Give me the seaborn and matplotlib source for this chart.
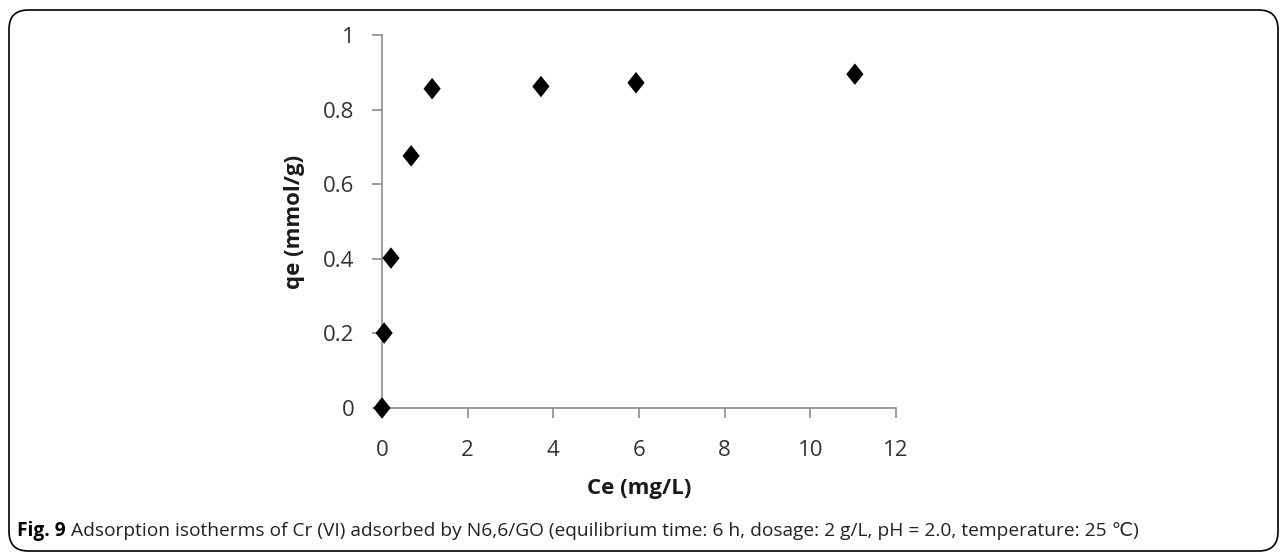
import matplotlib
matplotlib.use("Agg")
import matplotlib.pyplot as plt
import seaborn as sns
import pandas as pd
from matplotlib.patches import FancyBboxPatch
from matplotlib.path import Path
from matplotlib.markers import MarkerStyle

ce = [0.0, 0.05, 0.21, 0.68, 1.17, 3.71, 5.93, 11.04]
qe = [0.0, 0.201, 0.402, 0.676, 0.856, 0.862, 0.872, 0.895]
xticks = [0, 2, 4, 6, 8, 10, 12]
yticks = [0, 0.2, 0.4, 0.6, 0.8, 1]
ytick_labels = ["0", "0.2", "0.4", "0.6", "0.8", "1"]
xlabel = "Ce (mg/L)"
ylabel = "qe (mmol/g)"
caption_bold = "Fig. 9"
caption_text = " Adsorption isotherms of Cr (VI) adsorbed by N6,6/GO (equilibrium time: 6 h, dosage: 2 g/L, pH = 2.0, temperature: 25 \u2103)"

sns.set_style("white")
plt.rcParams['font.family'] = ['Open Sans', 'DejaVu Sans']

df = pd.DataFrame({"Ce": ce, "qe": qe})

fig = plt.figure(figsize=(12.87, 5.55), dpi=100)
ax = fig.add_axes([382/1287, 1-408/555, (896-382)/1287, (408-35)/555])

diamond = MarkerStyle(Path([(0, 1), (0.8, 0), (0, -1), (-0.8, 0), (0, 1)],
                           [Path.MOVETO, Path.LINETO, Path.LINETO, Path.LINETO, Path.CLOSEPOLY]))
sns.scatterplot(data=df, x="Ce", y="qe", ax=ax, marker=diamond, s=240,
                color="black", edgecolor="none", zorder=5, clip_on=False)

ax.set_xlim(0, 12)
ax.set_ylim(0, 1)
ax.set_xticks(xticks)
ax.set_xticklabels([str(t) for t in xticks])
ax.set_yticks(yticks)
ax.set_yticklabels(ytick_labels)
for s in ["top", "right"]:
    ax.spines[s].set_visible(False)
for s in ["left", "bottom"]:
    ax.spines[s].set_color("#8c8c8c")
    ax.spines[s].set_linewidth(1.2)
ax.tick_params(axis="both", which="major", direction="out", length=7, width=1.2,
               color="#8c8c8c", labelsize=16, labelcolor="#333333",
               bottom=True, left=True)
ax.tick_params(axis="y", pad=13)
ax.tick_params(axis="x", pad=16)
ax.set_xlabel(xlabel, fontsize=16, fontweight="bold", color="#1a1a1a", labelpad=12)
ax.set_ylabel(ylabel, fontsize=16, fontweight="bold", color="#1a1a1a", labelpad=13)

box = FancyBboxPatch((9/1287, 4/555), (1278-9)/1287, (545-4)/555,
                     boxstyle="round,pad=0,rounding_size=0.015",
                     transform=fig.transFigure, fill=False, edgecolor="black",
                     linewidth=1.2, mutation_aspect=1287/555)
fig.patches.append(box)

t1 = fig.text(17/1287, 1-531/555, caption_bold, fontsize=13.8, fontweight="bold",
              color="black", va="center", ha="left")
fig.canvas.draw()
bb = t1.get_window_extent()
fig.text(bb.x1/1287, 1-531/555, caption_text, fontsize=13.8,
         color="#222222", va="center", ha="left")

fig.savefig("out.png", dpi=100)
